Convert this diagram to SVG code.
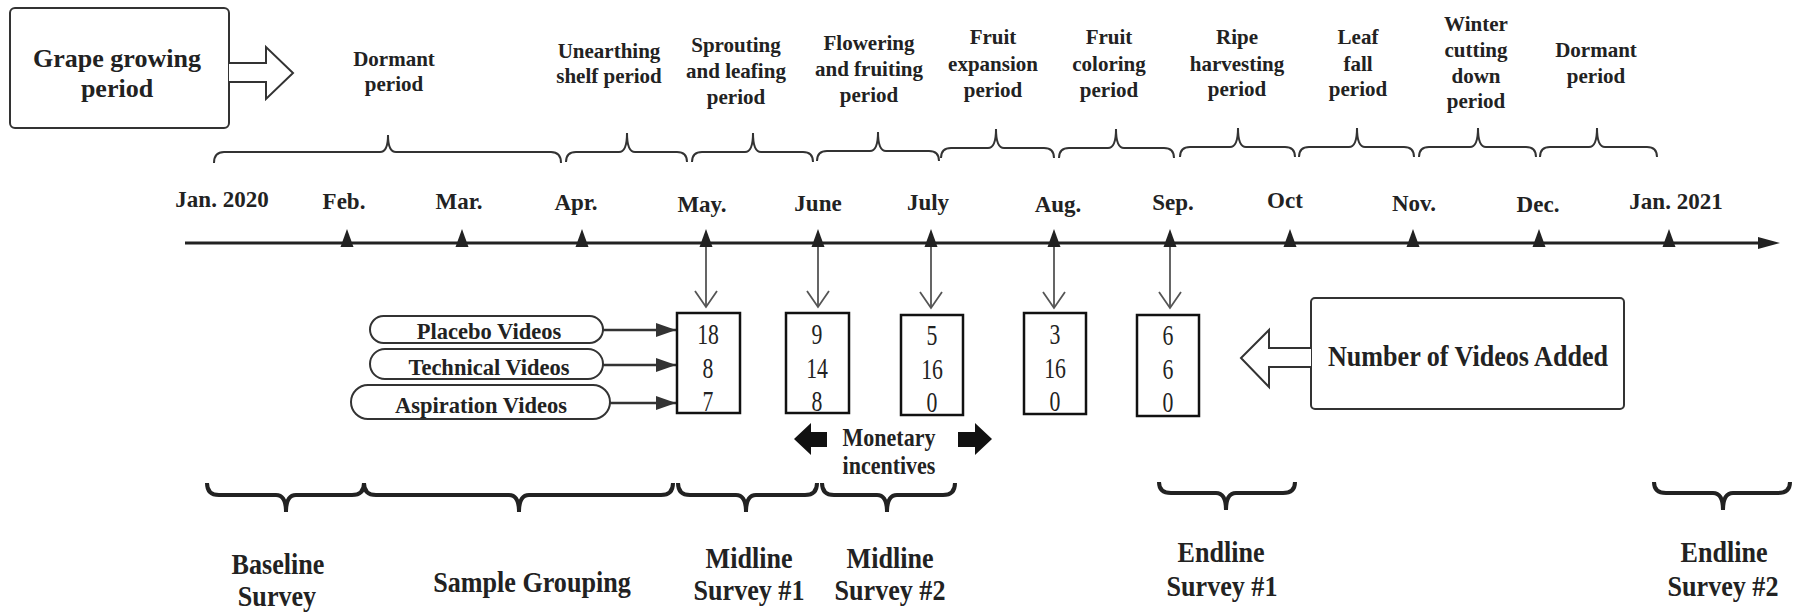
<svg xmlns="http://www.w3.org/2000/svg" width="1804" height="615" viewBox="0 0 1804 615">
<defs>
<style>
text { font-family: "Liberation Serif", "Times New Roman", serif; fill: #222; }
.per { font-size: 21px; font-weight: bold; text-anchor: middle; }
.mon { font-size: 23px; font-weight: bold; text-anchor: middle; }
.pt { font-size: 22.5px; font-weight: bold; text-anchor: middle; }
.mi { font-size: 25px; font-weight: bold; text-anchor: middle; }
.num { font-size: 29px; text-anchor: middle; }
.bot { font-size: 29px; font-weight: bold; text-anchor: middle; }
.big { font-size: 26px; font-weight: bold; text-anchor: middle; }
.nva { font-size: 29px; font-weight: bold; text-anchor: middle; }
.bt { fill: none; stroke: #333; stroke-width: 2; }
.bb { fill: none; stroke: #222; stroke-width: 4; }
.box { fill: #fff; stroke: #111; stroke-width: 2.5; }
.rbox { fill: #fff; stroke: #333; stroke-width: 2; }
.hollow { fill: #fff; stroke: #333; stroke-width: 2; stroke-linejoin: miter; }
.pill { fill: #fff; stroke: #333; stroke-width: 2; }
.tick { fill: #222; }
.vline { stroke: #555; stroke-width: 1.8; fill: none; }
.parrow { stroke: #333; stroke-width: 2.5; fill: none; }
.axis { stroke: #222; stroke-width: 3; fill: none; }
.block { fill: #111; }
</style>
<path id="tri" d="M0,-14 L6.5,4 L-6.5,4 Z"/>
<marker id="fh" markerUnits="userSpaceOnUse" markerWidth="22" markerHeight="14" refX="20" refY="7" orient="auto">
<path d="M0,0 L20,7 L0,14 Z" fill="#333"/>
</marker>
<marker id="ax" markerUnits="userSpaceOnUse" markerWidth="24" markerHeight="14" refX="12" refY="6" orient="auto">
<path d="M0,0 L22,6 L0,12 Z" fill="#222"/>
</marker>
<marker id="vh" markerUnits="userSpaceOnUse" markerWidth="20" markerHeight="26" refX="17" refY="12" orient="auto">
<path d="M1,1 L17,12 L1,23" fill="none" stroke="#555" stroke-width="1.8"/>
</marker>
</defs>
<rect width="1804" height="615" fill="#fff"/>

<g id="grape-growing-period">
<rect class="rbox" x="10" y="8" width="219" height="120" rx="5"/>
<text class="big" x="117" y="67">Grape growing</text>
<text class="big" x="117" y="97">period</text>
<path class="hollow" d="M229,63 L266,63 L266,47 L293,73 L266,99 L266,82 L229,82"/>
</g>

<g id="period-labels">
<text class="per" x="394" y="66">Dormant</text>
<text class="per" x="394" y="91">period</text>
<text class="per" x="609" y="58">Unearthing</text>
<text class="per" x="609" y="83">shelf period</text>
<text class="per" x="736" y="52">Sprouting</text>
<text class="per" x="736" y="78">and leafing</text>
<text class="per" x="736" y="104">period</text>
<text class="per" x="869" y="50">Flowering</text>
<text class="per" x="869" y="76">and fruiting</text>
<text class="per" x="869" y="102">period</text>
<text class="per" x="993" y="44">Fruit</text>
<text class="per" x="993" y="71">expansion</text>
<text class="per" x="993" y="97">period</text>
<text class="per" x="1109" y="44">Fruit</text>
<text class="per" x="1109" y="71">coloring</text>
<text class="per" x="1109" y="97">period</text>
<text class="per" x="1237" y="44">Ripe</text>
<text class="per" x="1237" y="71">harvesting</text>
<text class="per" x="1237" y="96">period</text>
<text class="per" x="1358" y="44">Leaf</text>
<text class="per" x="1358" y="71">fall</text>
<text class="per" x="1358" y="96">period</text>
<text class="per" x="1476" y="31">Winter</text>
<text class="per" x="1476" y="57">cutting</text>
<text class="per" x="1476" y="83">down</text>
<text class="per" x="1476" y="108">period</text>
<text class="per" x="1596" y="57">Dormant</text>
<text class="per" x="1596" y="83">period</text>
</g>

<g id="period-braces">
<path class="bt" d="M214,163 Q214,152 224,152 L380,152 Q388,152 388,135 Q388,152 396,152 L551,152 Q561,152 561,163"/>
<path class="bt" d="M566,162 Q566,152 576,152 L619,152 Q627,152 627,133 Q627,152 635,152 L677,152 Q687,152 687,162"/>
<path class="bt" d="M692,162 Q692,152 702,152 L745,152 Q753,152 753,133 Q753,152 761,152 L803,152 Q813,152 813,162"/>
<path class="bt" d="M817,161 Q817,151 827,151 L870,151 Q878,151 878,132 Q878,151 886,151 L929,151 Q939,151 939,161"/>
<path class="bt" d="M941,158 Q941,148 951,148 L988,148 Q996,148 996,129 Q996,148 1004,148 L1044,148 Q1054,148 1054,158"/>
<path class="bt" d="M1059,158 Q1059,148 1069,148 L1108,148 Q1116,148 1116,129 Q1116,148 1124,148 L1164,148 Q1174,148 1174,158"/>
<path class="bt" d="M1180,157 Q1180,147 1190,147 L1230,147 Q1238,147 1238,128 Q1238,147 1246,147 L1285,147 Q1295,147 1295,157"/>
<path class="bt" d="M1299,157 Q1299,147 1309,147 L1349,147 Q1357,147 1357,128 Q1357,147 1365,147 L1404,147 Q1414,147 1414,157"/>
<path class="bt" d="M1419,157 Q1419,147 1429,147 L1470,147 Q1478,147 1478,128 Q1478,147 1486,147 L1526,147 Q1536,147 1536,157"/>
<path class="bt" d="M1540,157 Q1540,147 1550,147 L1589,147 Q1597,147 1597,128 Q1597,147 1605,147 L1647,147 Q1657,147 1657,157"/>
</g>

<g id="timeline">
<line class="axis" x1="185" y1="243" x2="1770" y2="243" marker-end="url(#ax)"/>
<text class="mon" x="222" y="207">Jan. 2020</text>
<text class="mon" x="344" y="209">Feb.</text>
<text class="mon" x="459" y="209">Mar.</text>
<text class="mon" x="576" y="210">Apr.</text>
<text class="mon" x="702" y="212">May.</text>
<text class="mon" x="818" y="211">June</text>
<text class="mon" x="928" y="210">July</text>
<text class="mon" x="1058" y="212">Aug.</text>
<text class="mon" x="1173" y="210">Sep.</text>
<text class="mon" x="1285" y="208">Oct</text>
<text class="mon" x="1414" y="211">Nov.</text>
<text class="mon" x="1538" y="212">Dec.</text>
<text class="mon" x="1676" y="209">Jan. 2021</text>
<use class="tick" href="#tri" x="347" y="243"/>
<use class="tick" href="#tri" x="462" y="243"/>
<use class="tick" href="#tri" x="582" y="243"/>
<use class="tick" href="#tri" x="1290" y="243"/>
<use class="tick" href="#tri" x="1413" y="243"/>
<use class="tick" href="#tri" x="1539" y="243"/>
<use class="tick" href="#tri" x="1669" y="243"/>
</g>

<g id="connectors">
<line class="vline" x1="706" y1="232" x2="706" y2="307" marker-end="url(#vh)"/>
<line class="vline" x1="818" y1="232" x2="818" y2="307" marker-end="url(#vh)"/>
<line class="vline" x1="931" y1="232" x2="931" y2="308" marker-end="url(#vh)"/>
<line class="vline" x1="1054" y1="232" x2="1054" y2="308" marker-end="url(#vh)"/>
<line class="vline" x1="1170" y1="232" x2="1170" y2="308" marker-end="url(#vh)"/>
<use class="tick" href="#tri" x="706" y="243"/>
<use class="tick" href="#tri" x="818" y="243"/>
<use class="tick" href="#tri" x="931" y="243"/>
<use class="tick" href="#tri" x="1054" y="243"/>
<use class="tick" href="#tri" x="1170" y="243"/>
<line class="parrow" x1="603" y1="330" x2="676" y2="330" marker-end="url(#fh)"/>
<line class="parrow" x1="603" y1="365" x2="676" y2="365" marker-end="url(#fh)"/>
<line class="parrow" x1="610" y1="403" x2="676" y2="403" marker-end="url(#fh)"/>
</g>

<g id="video-types">
<rect class="pill" x="370" y="316" width="233" height="27" rx="13.5"/>
<text class="pt" x="489" y="339">Placebo Videos</text>
<rect class="pill" x="370" y="349" width="233" height="30" rx="15"/>
<text class="pt" x="489" y="375">Technical Videos</text>
<rect class="pill" x="351" y="385" width="259" height="34" rx="17"/>
<text class="pt" x="481" y="413">Aspiration Videos</text>
</g>

<g id="box-may">
<rect class="box" x="677" y="313" width="63" height="100"/>
<text class="num" transform="translate(708,344) scale(0.75,1)">18</text>
<text class="num" transform="translate(708,378) scale(0.75,1)">8</text>
<text class="num" transform="translate(708,411) scale(0.75,1)">7</text>
</g>
<g id="box-june">
<rect class="box" x="786" y="313" width="63" height="100"/>
<text class="num" transform="translate(817,344) scale(0.75,1)">9</text>
<text class="num" transform="translate(817,378) scale(0.75,1)">14</text>
<text class="num" transform="translate(817,411) scale(0.75,1)">8</text>
</g>
<g id="box-july">
<rect class="box" x="901" y="315" width="62" height="100"/>
<text class="num" transform="translate(932,345) scale(0.75,1)">5</text>
<text class="num" transform="translate(932,379) scale(0.75,1)">16</text>
<text class="num" transform="translate(932,412) scale(0.75,1)">0</text>
</g>
<g id="box-aug">
<rect class="box" x="1024" y="313" width="62" height="101"/>
<text class="num" transform="translate(1055,344) scale(0.75,1)">3</text>
<text class="num" transform="translate(1055,378) scale(0.75,1)">16</text>
<text class="num" transform="translate(1055,411) scale(0.75,1)">0</text>
</g>
<g id="box-sep">
<rect class="box" x="1137" y="315" width="62" height="101"/>
<text class="num" transform="translate(1168,345) scale(0.75,1)">6</text>
<text class="num" transform="translate(1168,379) scale(0.75,1)">6</text>
<text class="num" transform="translate(1168,412) scale(0.75,1)">0</text>
</g>

<g id="videos-added">
<rect class="rbox" x="1311" y="298" width="313" height="111" rx="4"/>
<text class="nva" transform="translate(1468,366) scale(0.9,1)">Number of Videos Added</text>
<path class="hollow" d="M1311,348 L1269,348 L1269,330 L1241,358 L1269,387 L1269,367 L1311,367"/>
</g>

<g id="monetary-incentives">
<path class="block" d="M794,439 L811,423 L811,432 L827,432 L827,447 L811,447 L811,455 Z"/>
<path class="block" d="M992,439 L975,423 L975,432 L958,432 L958,447 L975,447 L975,455 Z"/>
<text class="mi" transform="translate(889,446) scale(0.88,1)">Monetary</text>
<text class="mi" transform="translate(889,474) scale(0.88,1)">incentives</text>
</g>

<g id="survey-braces">
<path class="bb" d="M207,483 Q207,495 219,495 L276,495 Q286,495 286,512 Q286,495 296,495 L352,495 Q364,495 364,483"/>
<path class="bb" d="M364,483 Q364,495 376,495 L509,495 Q519,495 519,512 Q519,495 529,495 L661,495 Q673,495 673,483"/>
<path class="bb" d="M678,483 Q678,495 690,495 L736,495 Q746,495 746,512 Q746,495 756,495 L805,495 Q817,495 817,483"/>
<path class="bb" d="M822,483 Q822,495 834,495 L877,495 Q887,495 887,512 Q887,495 897,495 L943,495 Q955,495 955,483"/>
<path class="bb" d="M1159,482 Q1159,493 1171,493 L1216,493 Q1226,493 1226,510 Q1226,493 1236,493 L1283,493 Q1295,493 1295,482"/>
<path class="bb" d="M1654,482 Q1654,493 1666,493 L1713,493 Q1723,493 1723,510 Q1723,493 1733,493 L1778,493 Q1790,493 1790,482"/>
</g>

<g id="survey-labels">
<text class="bot" transform="translate(278,574) scale(0.9,1)">Baseline</text>
<text class="bot" transform="translate(277,606) scale(0.9,1)">Survey</text>
<text class="bot" transform="translate(532,592) scale(0.9,1)">Sample Grouping</text>
<text class="bot" transform="translate(749,568) scale(0.9,1)">Midline</text>
<text class="bot" transform="translate(749,600) scale(0.9,1)">Survey #1</text>
<text class="bot" transform="translate(890,568) scale(0.9,1)">Midline</text>
<text class="bot" transform="translate(890,600) scale(0.9,1)">Survey #2</text>
<text class="bot" transform="translate(1221,562) scale(0.9,1)">Endline</text>
<text class="bot" transform="translate(1222,596) scale(0.9,1)">Survey #1</text>
<text class="bot" transform="translate(1724,562) scale(0.9,1)">Endline</text>
<text class="bot" transform="translate(1723,596) scale(0.9,1)">Survey #2</text>
</g>
</svg>
